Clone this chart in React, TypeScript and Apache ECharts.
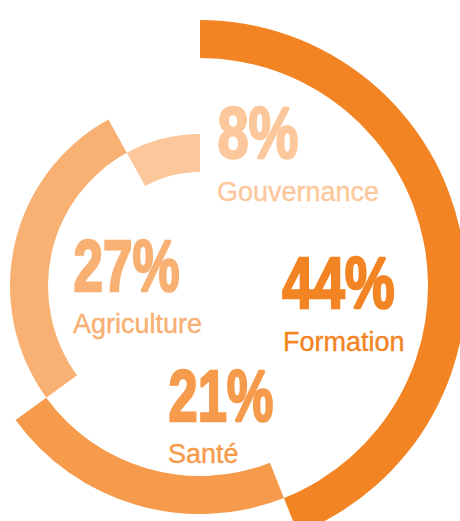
import React, { useEffect, useRef } from "react";
import * as echarts from "echarts";

// Data
const categories = ["Formation", "Santé", "Agriculture", "Gouvernance"];
const shares = [44, 21, 27, 8];
const colors = ["#F38423", "#F69B4B", "#F8B073", "#FCC89B"];

// Layout (ring radii per category, label positions)
const CENTER = [200, 286];
const ringRadii: [number, number][] = [
  [228, 266],
  [190, 228],
  [152, 190],
  [114, 152],
];
// [left x, big number centre y, big number ink width, label left x, label centre y]
const labelLayout: [number, number, number, number, number][] = [
  [282, 283, 112, 283, 341.5],
  [169, 395.5, 104, 168, 453.5],
  [74, 265.5, 105, 73, 324],
  [218, 132.5, 80, 217, 191.5],
];

const BIG_FONT = 73;
const BIG_STROKE = 2.5;
const BIG_FAMILY = '"Liberation Sans", Arial, sans-serif';

function measure(text: string, font: string) {
  const ctx = document.createElement("canvas").getContext("2d")!;
  ctx.font = font;
  const m = ctx.measureText(text);
  return {
    left: m.actualBoundingBoxLeft,
    right: m.actualBoundingBoxRight,
  };
}

export default function App() {
  const ref = useRef<HTMLDivElement>(null);
  useEffect(() => {
    if (!ref.current) return;
    const chart = echarts.init(ref.current, undefined, { renderer: "svg" });
    const total = shares.reduce((a, b) => a + b, 0);
    let cum = 0;
    const series = shares.map((v, i) => {
      const start = 90 - (cum / total) * 360;
      cum += v;
      return {
        type: "pie",
        name: categories[i],
        center: CENTER,
        radius: ringRadii[i],
        startAngle: start,
        clockwise: true,
        silent: true,
        label: { show: false },
        labelLine: { show: false },
        emphasis: { disabled: true },
        itemStyle: { borderWidth: 0 },
        data: [
          { value: v, name: categories[i], itemStyle: { color: colors[i] } },
          { value: total - v, name: "", itemStyle: { color: "rgba(0,0,0,0)" } },
        ],
      };
    });

    const graphics: any[] = [];
    shares.forEach((v, i) => {
      const [x, cy, w, lx, ly] = labelLayout[i];
      const text = `${v}%`;
      const font = `bold ${BIG_FONT}px ${BIG_FAMILY}`;
      const m = measure(text, font);
      const ink = m.left + m.right + BIG_STROKE;
      const sx = w / ink;
      graphics.push({
        type: "text",
        x: x + (m.left + BIG_STROKE / 2) * sx,
        y: cy,
        scaleX: sx,
        silent: true,
        style: {
          text,
          fill: colors[i],
          stroke: colors[i],
          lineWidth: BIG_STROKE,
          font,
          align: "left",
          verticalAlign: "middle",
        },
      });
      graphics.push({
        type: "text",
        x: lx,
        y: ly,
        silent: true,
        style: {
          text: categories[i],
          fill: colors[i],
          stroke: colors[i],
          lineWidth: 0.4,
          font: `27px "Liberation Sans", Arial, sans-serif`,
          align: "left",
          verticalAlign: "middle",
        },
      });
    });

    chart.setOption({
      animation: false,
      series,
      graphic: graphics,
    });
    return () => chart.dispose();
  }, []);
  return (
    <div
      ref={ref}
      style={{ position: "fixed", left: 0, top: 0, width: 460, height: 521, background: "#fff" }}
    />
  );
}
